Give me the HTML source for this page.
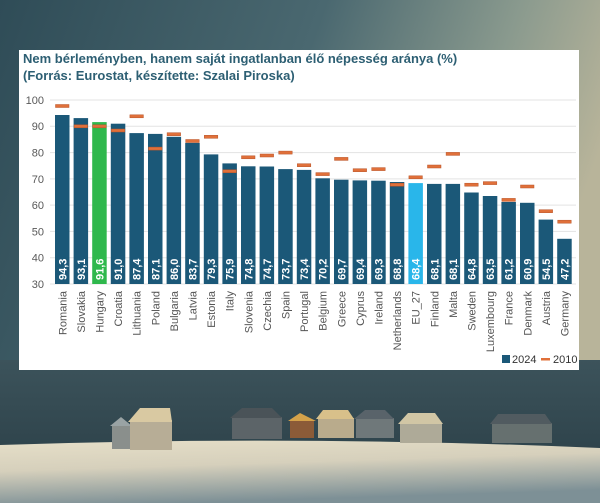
<!DOCTYPE html>
<html><head><meta charset="utf-8"><style>
html,body{margin:0;padding:0;width:600px;height:503px;overflow:hidden;}
body{background:#3a5560;}
.v{font-size:11px;font-weight:bold;fill:#fff;}
.c{font-size:11px;fill:#555;text-anchor:end;}
.b{fill:#1b5878;}
.m{fill:#e0703a;stroke:#b8552a;stroke-width:0.5;}
</style></head><body>
<svg width="600" height="503" viewBox="0 0 600 503" xmlns="http://www.w3.org/2000/svg" font-family="Liberation Sans, sans-serif">
<defs>
<linearGradient id="sky" x1="0" y1="0" x2="1" y2="0.3">
<stop offset="0" stop-color="#2f4c57"/><stop offset="0.5" stop-color="#4a6870"/><stop offset="0.8" stop-color="#8a9a8e"/><stop offset="1" stop-color="#b8b49a"/>
</linearGradient>
<linearGradient id="band" x1="0" y1="0" x2="0" y2="1">
<stop offset="0" stop-color="#3c535b"/><stop offset="1" stop-color="#2f444c"/>
</linearGradient>
<linearGradient id="ground" x1="0" y1="0" x2="0.3" y2="1">
<stop offset="0" stop-color="#e6dfc8"/><stop offset="0.45" stop-color="#d6d0bc"/><stop offset="1" stop-color="#7d9096"/>
</linearGradient>
</defs>
<rect width="600" height="503" fill="url(#sky)"/>
<rect y="360" width="600" height="90" fill="url(#band)"/>
<path d="M0 445 Q300 435 600 448 L600 503 L0 503 Z" fill="url(#ground)"/>
<g>
<rect x="112" y="425" width="20" height="24" fill="#8a8f8c"/><path d="M110 426 L121 417 L132 426Z" fill="#9aa3a4"/>
<rect x="130" y="420" width="42" height="30" fill="#b7ad96"/><path d="M128 422 L140 408 L170 408 L172 422Z" fill="#d9c9a2"/>
<rect x="232" y="417" width="50" height="22" fill="#5c6468"/><path d="M230 418 L242 408 L272 408 L282 418Z" fill="#4a5358"/>
<rect x="290" y="420" width="24" height="18" fill="#8b5b38"/><path d="M288 421 L300 413 L316 421Z" fill="#d4a24a"/>
<rect x="318" y="418" width="36" height="20" fill="#b9ab8c"/><path d="M316 419 L323 410 L348 410 L354 419Z" fill="#d8c08a"/>
<rect x="356" y="418" width="38" height="20" fill="#6f787a"/><path d="M354 419 L365 410 L385 410 L394 419Z" fill="#59636a"/>
<rect x="400" y="423" width="42" height="20" fill="#aeaa98"/><path d="M398 424 L408 413 L435 413 L443 424Z" fill="#d1c6a5"/>
<rect x="492" y="423" width="60" height="20" fill="#66706f"/><path d="M490 424 L498 414 L545 414 L552 424Z" fill="#515b60"/>
</g>
<rect x="19" y="50" width="560" height="320" fill="#ffffff"/>
<text x="23" y="63" font-size="13" font-weight="bold" fill="#2d5f73">Nem bérleményben, hanem saját ingatlanban élő népesség aránya (%)</text>
<text x="23" y="80" font-size="13" font-weight="bold" fill="#2d5f73">(Forrás: Eurostat, készítette: Szalai Piroska)</text>
<g stroke="#e3e3e3" stroke-width="1">
<line x1="50" x2="576" y1="100" y2="100"/><line x1="50" x2="576" y1="126.3" y2="126.3"/><line x1="50" x2="576" y1="152.6" y2="152.6"/><line x1="50" x2="576" y1="178.9" y2="178.9"/><line x1="50" x2="576" y1="205.1" y2="205.1"/><line x1="50" x2="576" y1="231.4" y2="231.4"/><line x1="50" x2="576" y1="257.7" y2="257.7"/><line x1="50" x2="576" y1="284" y2="284"/>
</g>
<g font-size="11" fill="#595959" text-anchor="end">
<text x="44" y="104">100</text><text x="44" y="130">90</text><text x="44" y="156.6">80</text><text x="44" y="183">70</text><text x="44" y="209">60</text><text x="44" y="235.4">50</text><text x="44" y="261.7">40</text><text x="44" y="288">30</text>
</g>
<g>
<rect class="b" x="55" y="115.0" width="14.5" height="169.0"/>
<rect class="b" x="73.6" y="118.1" width="14.5" height="165.9"/>
<rect x="92.2" y="122.1" width="14.5" height="161.9" fill="#2fb84c"/>
<rect class="b" x="110.8" y="123.7" width="14.5" height="160.3"/>
<rect class="b" x="129.4" y="133.1" width="14.5" height="150.9"/>
<rect class="b" x="148" y="133.9" width="14.5" height="150.1"/>
<rect class="b" x="166.6" y="136.8" width="14.5" height="147.2"/>
<rect class="b" x="185.2" y="142.9" width="14.5" height="141.1"/>
<rect class="b" x="203.8" y="154.4" width="14.5" height="129.6"/>
<rect class="b" x="222.4" y="163.4" width="14.5" height="120.6"/>
<rect class="b" x="241" y="166.3" width="14.5" height="117.7"/>
<rect class="b" x="259.6" y="166.5" width="14.5" height="117.5"/>
<rect class="b" x="278.2" y="169.1" width="14.5" height="114.9"/>
<rect class="b" x="296.8" y="169.9" width="14.5" height="114.1"/>
<rect class="b" x="315.4" y="178.3" width="14.5" height="105.7"/>
<rect class="b" x="334" y="179.7" width="14.5" height="104.3"/>
<rect class="b" x="352.6" y="180.4" width="14.5" height="103.6"/>
<rect class="b" x="371.2" y="180.7" width="14.5" height="103.3"/>
<rect class="b" x="389.8" y="182.0" width="14.5" height="102.0"/>
<rect x="408.4" y="183.1" width="14.5" height="100.9" fill="#29b6ea"/>
<rect class="b" x="427" y="183.9" width="14.5" height="100.1"/>
<rect class="b" x="445.6" y="183.9" width="14.5" height="100.1"/>
<rect class="b" x="464.2" y="192.5" width="14.5" height="91.5"/>
<rect class="b" x="482.8" y="196.0" width="14.5" height="88.0"/>
<rect class="b" x="501.4" y="202.0" width="14.5" height="82.0"/>
<rect class="b" x="520" y="202.8" width="14.5" height="81.2"/>
<rect class="b" x="538.6" y="219.6" width="14.5" height="64.4"/>
<rect class="b" x="557.2" y="238.8" width="14.5" height="45.2"/>
</g>
<g>
<rect class="m" x="55.5" y="104.5" width="13.5" height="3"/>
<rect class="m" x="74.1" y="124.8" width="13.5" height="3"/>
<rect class="m" x="92.7" y="124.8" width="13.5" height="3"/>
<rect class="m" x="111.3" y="129.0" width="13.5" height="3"/>
<rect class="m" x="129.9" y="114.8" width="13.5" height="3"/>
<rect class="m" x="148.5" y="147.1" width="13.5" height="3"/>
<rect class="m" x="167.1" y="132.7" width="13.5" height="3"/>
<rect class="m" x="185.7" y="139.5" width="13.5" height="3"/>
<rect class="m" x="204.3" y="135.3" width="13.5" height="3"/>
<rect class="m" x="222.9" y="169.7" width="13.5" height="3"/>
<rect class="m" x="241.5" y="155.8" width="13.5" height="3"/>
<rect class="m" x="260.1" y="154.0" width="13.5" height="3"/>
<rect class="m" x="278.7" y="151.1" width="13.5" height="3"/>
<rect class="m" x="297.3" y="163.7" width="13.5" height="3"/>
<rect class="m" x="315.9" y="172.6" width="13.5" height="3"/>
<rect class="m" x="334.5" y="157.4" width="13.5" height="3"/>
<rect class="m" x="353.1" y="168.7" width="13.5" height="3"/>
<rect class="m" x="371.7" y="167.6" width="13.5" height="3"/>
<rect class="m" x="390.3" y="183.2" width="13.5" height="3"/>
<rect class="m" x="408.9" y="175.8" width="13.5" height="3"/>
<rect class="m" x="427.5" y="165.0" width="13.5" height="3"/>
<rect class="m" x="446.1" y="152.4" width="13.5" height="3"/>
<rect class="m" x="464.7" y="183.2" width="13.5" height="3"/>
<rect class="m" x="483.3" y="181.6" width="13.5" height="3"/>
<rect class="m" x="501.9" y="198.4" width="13.5" height="3"/>
<rect class="m" x="520.5" y="185.0" width="13.5" height="3"/>
<rect class="m" x="539.1" y="209.7" width="13.5" height="3"/>
<rect class="m" x="557.7" y="220.2" width="13.5" height="3"/>
</g>
<g>
<text class="v" transform="translate(66.25,280) rotate(-90)">94,3</text>
<text class="v" transform="translate(84.85,280) rotate(-90)">93,1</text>
<text class="v" transform="translate(103.45,280) rotate(-90)">91,6</text>
<text class="v" transform="translate(122.05,280) rotate(-90)">91,0</text>
<text class="v" transform="translate(140.65,280) rotate(-90)">87,4</text>
<text class="v" transform="translate(159.25,280) rotate(-90)">87,1</text>
<text class="v" transform="translate(177.85,280) rotate(-90)">86,0</text>
<text class="v" transform="translate(196.45,280) rotate(-90)">83,7</text>
<text class="v" transform="translate(215.05,280) rotate(-90)">79,3</text>
<text class="v" transform="translate(233.65,280) rotate(-90)">75,9</text>
<text class="v" transform="translate(252.25,280) rotate(-90)">74,8</text>
<text class="v" transform="translate(270.85,280) rotate(-90)">74,7</text>
<text class="v" transform="translate(289.45,280) rotate(-90)">73,7</text>
<text class="v" transform="translate(308.05,280) rotate(-90)">73,4</text>
<text class="v" transform="translate(326.65,280) rotate(-90)">70,2</text>
<text class="v" transform="translate(345.25,280) rotate(-90)">69,7</text>
<text class="v" transform="translate(363.85,280) rotate(-90)">69,4</text>
<text class="v" transform="translate(382.45,280) rotate(-90)">69,3</text>
<text class="v" transform="translate(401.05,280) rotate(-90)">68,8</text>
<text class="v" transform="translate(419.65,280) rotate(-90)">68,4</text>
<text class="v" transform="translate(438.25,280) rotate(-90)">68,1</text>
<text class="v" transform="translate(456.85,280) rotate(-90)">68,1</text>
<text class="v" transform="translate(475.45,280) rotate(-90)">64,8</text>
<text class="v" transform="translate(494.05,280) rotate(-90)">63,5</text>
<text class="v" transform="translate(512.65,280) rotate(-90)">61,2</text>
<text class="v" transform="translate(531.25,280) rotate(-90)">60,9</text>
<text class="v" transform="translate(549.85,280) rotate(-90)">54,5</text>
<text class="v" transform="translate(568.45,280) rotate(-90)">47,2</text>
</g>
<g>
<text class="c" transform="translate(66.25,291) rotate(-90)">Romania</text>
<text class="c" transform="translate(84.85,291) rotate(-90)">Slovakia</text>
<text class="c" transform="translate(103.45,291) rotate(-90)">Hungary</text>
<text class="c" transform="translate(122.05,291) rotate(-90)">Croatia</text>
<text class="c" transform="translate(140.65,291) rotate(-90)">Lithuania</text>
<text class="c" transform="translate(159.25,291) rotate(-90)">Poland</text>
<text class="c" transform="translate(177.85,291) rotate(-90)">Bulgaria</text>
<text class="c" transform="translate(196.45,291) rotate(-90)">Latvia</text>
<text class="c" transform="translate(215.05,291) rotate(-90)">Estonia</text>
<text class="c" transform="translate(233.65,291) rotate(-90)">Italy</text>
<text class="c" transform="translate(252.25,291) rotate(-90)">Slovenia</text>
<text class="c" transform="translate(270.85,291) rotate(-90)">Czechia</text>
<text class="c" transform="translate(289.45,291) rotate(-90)">Spain</text>
<text class="c" transform="translate(308.05,291) rotate(-90)">Portugal</text>
<text class="c" transform="translate(326.65,291) rotate(-90)">Belgium</text>
<text class="c" transform="translate(345.25,291) rotate(-90)">Greece</text>
<text class="c" transform="translate(363.85,291) rotate(-90)">Cyprus</text>
<text class="c" transform="translate(382.45,291) rotate(-90)">Ireland</text>
<text class="c" transform="translate(401.05,291) rotate(-90)">Netherlands</text>
<text class="c" transform="translate(419.65,291) rotate(-90)">EU_27</text>
<text class="c" transform="translate(438.25,291) rotate(-90)">Finland</text>
<text class="c" transform="translate(456.85,291) rotate(-90)">Malta</text>
<text class="c" transform="translate(475.45,291) rotate(-90)">Sweden</text>
<text class="c" transform="translate(494.05,291) rotate(-90)">Luxembourg</text>
<text class="c" transform="translate(512.65,291) rotate(-90)">France</text>
<text class="c" transform="translate(531.25,291) rotate(-90)">Denmark</text>
<text class="c" transform="translate(549.85,291) rotate(-90)">Austria</text>
<text class="c" transform="translate(568.45,291) rotate(-90)">Germany</text>
</g>
<g font-size="11" fill="#333">
<rect x="502" y="355" width="8" height="8" fill="#1b5878"/><text x="512" y="363">2024</text>
<rect x="541" y="358" width="9" height="2.5" fill="#e0703a"/><text x="553" y="363">2010</text>
</g>
</svg>
</body></html>
